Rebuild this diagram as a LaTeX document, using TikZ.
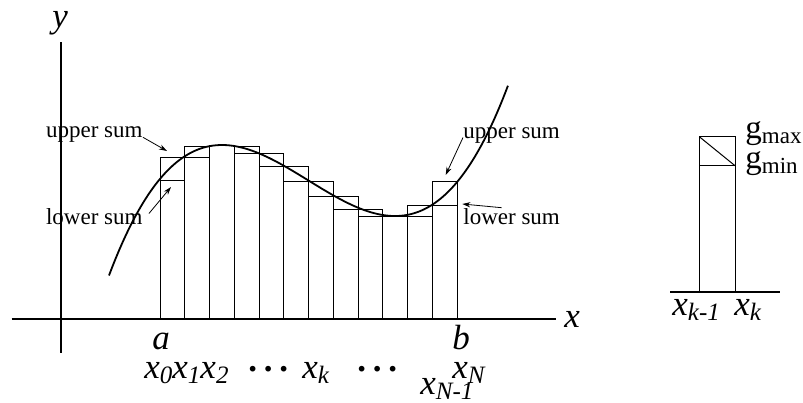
\documentclass[tikz,border=0pt]{standalone}
\usepackage{fontspec}
\setmainfont{Liberation Serif}
\usetikzlibrary{arrows.meta}
\newcommand\sbs[1]{\raisebox{-2.7pt}{\fontsize{12.5}{13}\selectfont\itshape #1}}
\newcommand\sbr[1]{\raisebox{-2.75pt}{\fontsize{11.5}{12}\selectfont\upshape #1}}
\newcommand\mydots{\raisebox{3.4pt}{\upshape\textbf{.\hspace{3.4pt}.\hspace{3.4pt}.}}}
\begin{document}
\begin{tikzpicture}[x=0.5pt,y=-0.5pt,
  lbl/.style={inner sep=0pt, anchor=base west, font=\fontsize{17.5}{19}\selectfont\itshape},
  glbl/.style={inner sep=0pt, anchor=base west, font=\fontsize{16.5}{18}\selectfont},
  sumlbl/.style={inner sep=0pt, anchor=base west, font=\fontsize{11.5}{13}\selectfont},
  axis/.style={line width=0.7pt},
  bar/.style={line width=0.5pt},
  curve/.style={line width=0.9pt},
  pointer/.style={line width=0.4pt, -{Stealth[length=4pt,width=2.6pt]}}]
\useasboundingbox (0,0) rectangle (803,402);
% axes
\draw[axis] (11.7,319) -- (556,319);
\draw[axis] (61,42) -- (61,353);
% bars (upper rectangles and lower lines)
\foreach \i/\t/\l in {0/157/180, 1/146/157, 2/145/145, 3/146/153, 4/153/166, 5/166/181, 6/181/196, 7/196/209, 8/209/216, 9/216/216, 10/205/216, 11/181/205} {
  \draw[bar] ({160+24.75*\i},319) rectangle ({184.75+24.75*\i},\t);
  \draw[bar] ({160+24.75*\i},\l) -- ({184.75+24.75*\i},\l);
}
% curve
\draw[curve] plot[domain=-1.13:2.86, samples=120, smooth]
  ({222+100*\x}, {145-82.3*(\x*\x*\x/3-0.865*\x*\x)});
% axis labels
\node[lbl] (ylab) at (52,27) {y};
\node[lbl] (xlab) at (564,327) {x};
% bottom labels
\node[lbl] (alab) at (152,349) {a};
\node[lbl] (blab) at (452,349) {b};
\node[lbl] (x012) at (144,378) {x\sbs{0}x\sbs{1}x\sbs{2}};
\node[lbl] (dotsa) at (248,378) {\mydots};
\node[lbl] (xklab) at (302,378) {x\sbs{k}};
\node[lbl] (dotsb) at (357,378) {\mydots};
\node[lbl] (xNlab) at (452,378) {x\sbs{N}};
\node[lbl] (xN1lab) at (420,394) {x\sbs{N-1}};
% sum labels and pointers
\node[sumlbl] (us1) at (45.7,137.3) {upper sum};
\node[sumlbl] (ls1) at (45.7,224.5) {lower sum};
\node[sumlbl] (us2) at (463,138) {upper sum};
\node[sumlbl] (ls2) at (463,224) {lower sum};
\coordinate (us1tip) at (167,151);
\coordinate (ls1tip) at (171,187);
\coordinate (us2tip) at (445.7,175);
\coordinate (ls2tip) at (462.3,204);
\draw[pointer] (us1.base east) -- (us1tip);
\draw[pointer] ([shift={(6,-11)}]ls1.base east) -- (ls1tip);
\draw[pointer] ([shift={(0,-0.5)}]us2.base west) -- (us2tip);
\draw[pointer] ([shift={(38.7,-16.3)}]ls2.base west) -- (ls2tip);
% right detail
\draw[axis] (670,292) -- (780,292);
\draw[bar] (699.3,292) rectangle (735,136.7);
\draw[bar] (699.3,165.7) -- (735,165.7);
\draw[bar] (699.3,136.7) -- (735,165.7);
\node[glbl] (gmax) at (745,138) {g\sbr{max}};
\node[glbl] (gmin) at (745,168) {g\sbr{min}};
\node[lbl] (xkm1) at (672,315) {x\sbs{k-1}};
\node[lbl] (xkr) at (734,315) {x\sbs{k}};
\end{tikzpicture}
\end{document}
